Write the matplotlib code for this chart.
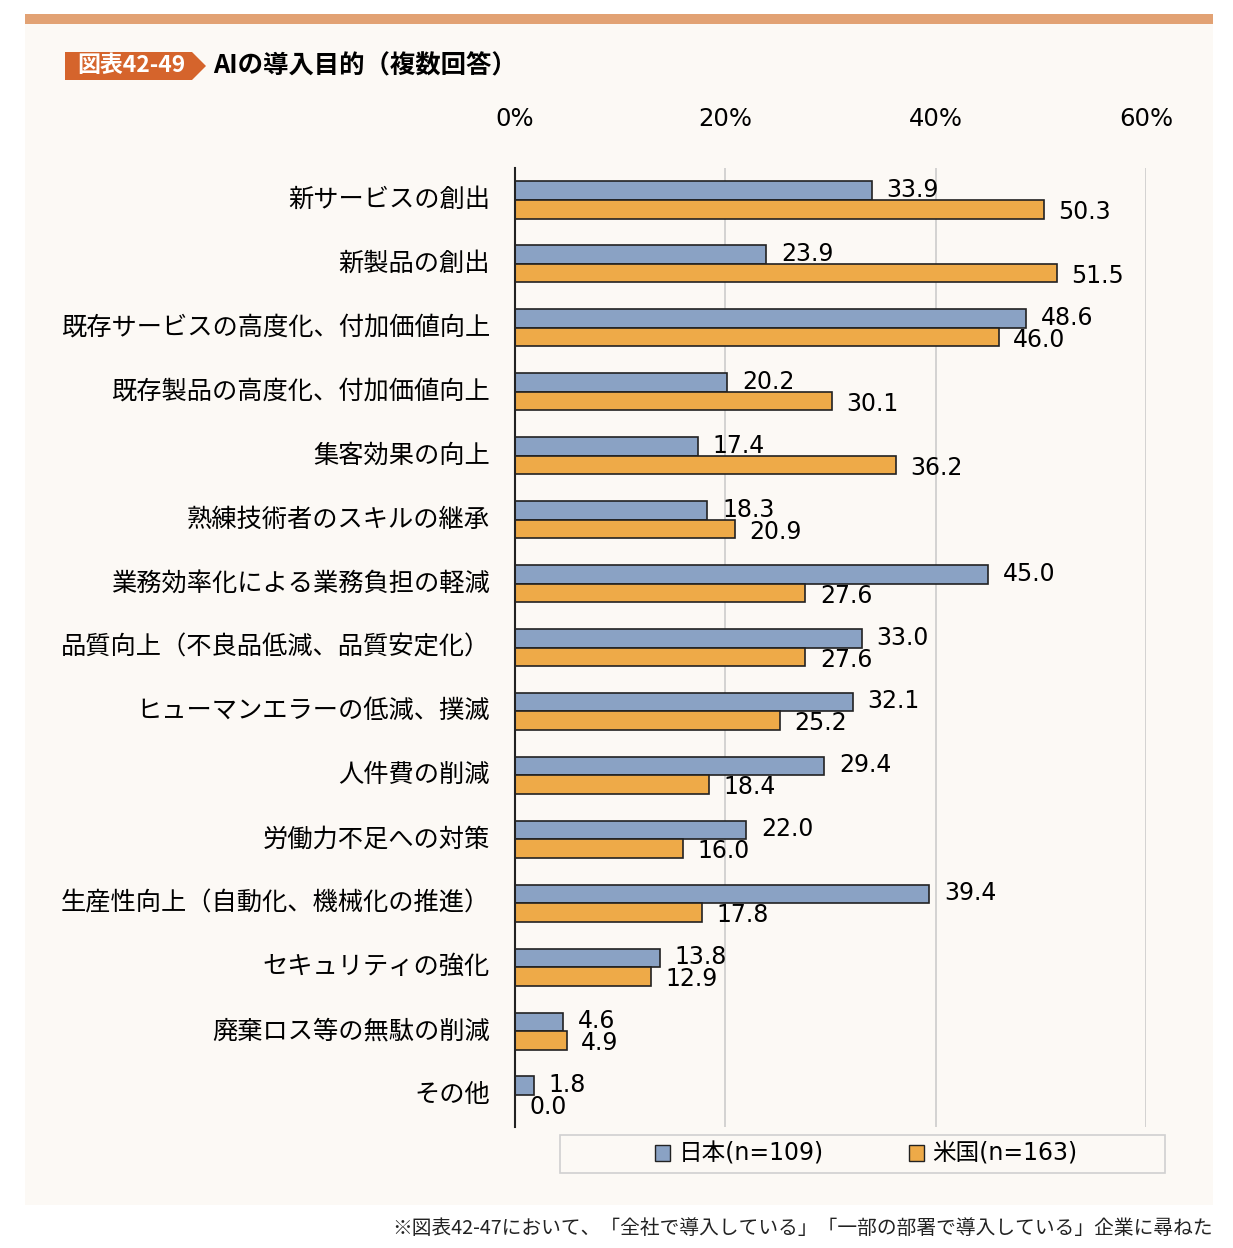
import numpy as np
import matplotlib
matplotlib.use("Agg")
import matplotlib.pyplot as plt
import matplotlib.transforms as mtransforms
from matplotlib.patches import Rectangle, Polygon, Patch

plt.rcParams['font.family'] = ['Noto Sans CJK JP', 'DejaVu Sans']

categories = [
    "新サービスの創出",
    "新製品の創出",
    "既存サービスの高度化、付加価値向上",
    "既存製品の高度化、付加価値向上",
    "集客効果の向上",
    "熟練技術者のスキルの継承",
    "業務効率化による業務負担の軽減",
    "品質向上（不良品低減、品質安定化）",
    "ヒューマンエラーの低減、撲滅",
    "人件費の削減",
    "労働力不足への対策",
    "生産性向上（自動化、機械化の推進）",
    "セキュリティの強化",
    "廃棄ロス等の無駄の削減",
    "その他",
]
japan = [33.9, 23.9, 48.6, 20.2, 17.4, 18.3, 45.0, 33.0, 32.1, 29.4, 22.0, 39.4, 13.8, 4.6, 1.8]
usa = [50.3, 51.5, 46.0, 30.1, 36.2, 20.9, 27.6, 27.6, 25.2, 18.4, 16.0, 17.8, 12.9, 4.9, 0.0]
series_names = ["日本(n=109)", "米国(n=163)"]
xticks = [0, 20, 40, 60]

c_jp = "#8aa2c4"
c_us = "#eeaa48"
panel = "#fcf9f5"

W, H = 1233, 1248
fig = plt.figure(figsize=(W / 100, H / 100), dpi=100, facecolor="white")

# background panel and top band
fig.patches.append(Rectangle((25 / W, 1 - 1205 / H), (1213 - 25) / W, (1205 - 24) / H,
                             transform=fig.transFigure, facecolor=panel, edgecolor="none", zorder=-10))
fig.patches.append(Rectangle((25 / W, 1 - 24 / H), (1213 - 25) / W, 10 / H,
                             transform=fig.transFigure, facecolor="#e2a274", edgecolor="none", zorder=-10))
# title badge
badge = [(65, 52), (192, 52), (206, 66), (192, 80), (65, 80)]
fig.patches.append(Polygon([(x / W, 1 - y / H) for x, y in badge], closed=True,
                           transform=fig.transFigure, facecolor="#d5642c", edgecolor="none", zorder=-5))
fig.text(131 / W, 1 - 66 / H, "図表42-49", color="white", fontsize=16.5, fontweight="bold",
         ha="center", va="center")
fig.text(213 / W, 1 - 66 / H, "AIの導入目的（複数回答）", color="black", fontsize=18.3,
         fontweight="bold", ha="left", va="center")

# legend frame
fig.patches.append(Rectangle((560 / W, 1 - 1173 / H), (1165 - 560) / W, (1173 - 1135) / H,
                             transform=fig.transFigure, facecolor=panel, edgecolor="#d0d0d0",
                             linewidth=1.2, zorder=-5))

ax = fig.add_axes([515 / W, 1 - 1127 / H, (1146 - 515) / W, (1127 - 168) / H])
ax.set_facecolor(panel)

y = np.arange(len(categories))
h = 0.29
bj = ax.barh(y - h / 2, japan, height=h, color=c_jp, edgecolor="#222222", linewidth=1.2, zorder=3)
bu = ax.barh(y + h / 2, usa, height=h, color=c_us, edgecolor="#222222", linewidth=1.2, zorder=3)

for yi, v in zip(y, japan):
    ax.annotate(f"{v:.1f}", (v, yi - h / 2), xytext=(10.5, 0.5), textcoords="offset points",
                ha="left", va="center", fontsize=17, family=["DejaVu Sans"])
for yi, v in zip(y, usa):
    ax.annotate(f"{v:.1f}", (v, yi + h / 2), xytext=(10.5, -2), textcoords="offset points",
                ha="left", va="center", fontsize=17, family=["DejaVu Sans"])

ax.set_xlim(0, 60)
ax.set_ylim(len(categories) - 0.5, -0.5)
ax.set_xticks(xticks)
ax.set_xticklabels([f"{t}%" for t in xticks], fontsize=17.5, family=["DejaVu Sans"])
ax.xaxis.tick_top()
ax.tick_params(axis="x", length=0, pad=27)
ax.set_yticks(y)
ax.set_yticklabels(categories, fontsize=18.2)
ax.tick_params(axis="y", length=0, pad=18)
shift = mtransforms.ScaledTranslation(0, 3 / 100, fig.dpi_scale_trans)
for lab in ax.get_yticklabels():
    lab.set_transform(lab.get_transform() + shift)
ax.grid(axis="x", color="#cccccc", linewidth=1.2, zorder=0)
for s in ["top", "right", "bottom"]:
    ax.spines[s].set_visible(False)
ax.spines["left"].set_color("#222222")
ax.spines["left"].set_linewidth(1.5)
ax.spines["left"].set_zorder(4)

handles = [Patch(facecolor=c_jp, edgecolor="#222222", linewidth=1),
           Patch(facecolor=c_us, edgecolor="#222222", linewidth=1)]
leg = fig.legend(handles, series_names, loc="center", bbox_to_anchor=(866 / W, 1 - 1154 / H),
                 ncol=2, frameon=False, handlelength=0.65, handleheight=0.65,
                 handletextpad=0.35, columnspacing=3.6,
                 prop={"family": ["DejaVu Sans", "Noto Sans CJK JP"], "size": 17})

fig.text(1213 / W, 1 - 1228 / H,
         "※図表42-47において、「全社で導入している」「一部の部署で導入している」企業に尋ねた",
         ha="right", va="center", fontsize=14.2, color="#222222")

fig.savefig("out.png", dpi=100, facecolor="white")
